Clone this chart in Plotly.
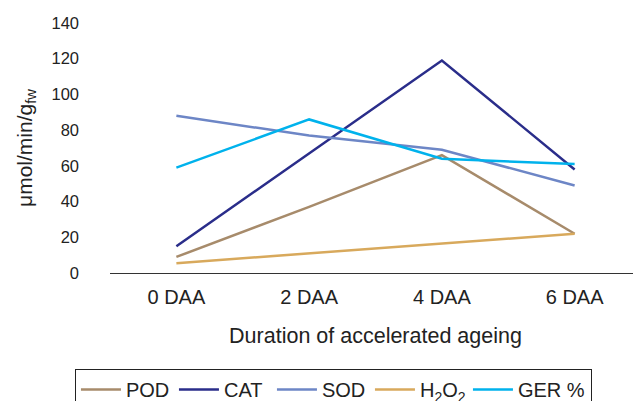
import plotly.graph_objects as go

categories = ["0 DAA", "2 DAA", "4 DAA", "6 DAA"]
pod = [9, 37, 66, 22]
cat = [15, 67, 119, 58]
sod = [88, 77, 69, 49]
h2o2 = [5.5, 11, 16.5, 22]
ger = [59, 86, 64, 61]

series = [
    ("POD", pod, "#a78b6b"),
    ("CAT", cat, "#2a2d8a"),
    ("SOD", sod, "#6d86c6"),
    ("H<sub>2</sub>O<sub>2</sub>", h2o2, "#d8a95c"),
    ("GER %", ger, "#00b2ec"),
]
legend_widths = [43, 43, 43, 43, 68]

fig = go.Figure()
for (name, vals, color), lw in zip(series, legend_widths):
    fig.add_trace(go.Scatter(x=categories, y=vals, name=name, mode="lines",
                             line=dict(color=color, width=2.5), legendwidth=lw))

font = "Liberation Sans, Arial, sans-serif"
# the page body adds an 8px offset, so margins are shifted to compensate
fig.update_layout(
    width=641, height=401,
    margin=dict(l=102, r=8, t=15, b=136, autoexpand=False),
    paper_bgcolor="white", plot_bgcolor="white",
    font=dict(family=font, size=20, color="#222222"),
    xaxis=dict(range=[-0.5, 3.5], showgrid=False, showline=True, linecolor="#333333",
               linewidth=1, ticks="", ticklen=0, ticklabelstandoff=6,
               tickfont=dict(size=20),
               title=dict(text="Duration of accelerated ageing", standoff=20,
                          font=dict(size=21.5))),
    yaxis=dict(range=[0, 140], dtick=20, showgrid=False, zeroline=False, showline=False,
               ticks="", ticklabelstandoff=30, tickfont=dict(size=16.5),
               title=dict(text="μmol/min/g<sub>fw</sub>", standoff=13, font=dict(size=21))),
    legend=dict(orientation="h", x=-0.066, xanchor="left", y=-0.384, yanchor="top",
                bordercolor="#222222", borderwidth=1, font=dict(size=20),
                itemwidth=40, tracegroupgap=0),
    showlegend=True,
)
fig.write_html("out.html")
